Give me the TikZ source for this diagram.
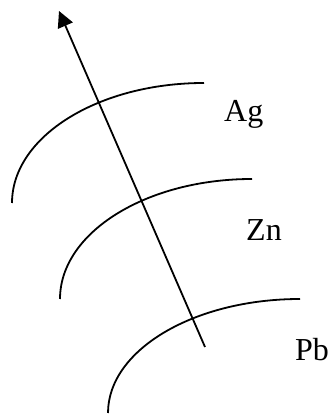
\documentclass[tikz,border=0pt]{standalone}
\usepackage{fontspec}
\setmainfont{Liberation Serif}
\usetikzlibrary{arrows.meta}

\begin{document}
\begin{tikzpicture}[
  x=1pt,y=1pt,
  shell/.style={line width=1.8pt,black},
  arr/.style={-{Triangle[length=16pt,width=16pt]},line width=1.8pt,black},
  lbl/.style={anchor=base west,inner sep=0pt,font=\fontsize{32}{38}\selectfont}
]
\useasboundingbox (0,0) rectangle (331,417);
% shells
\draw[shell] (12,214) arc[start angle=180,end angle=90,x radius=192,y radius=120];
\draw[shell] (60,118) arc[start angle=180,end angle=90,x radius=192,y radius=120];
\draw[shell] (108,4) arc[start angle=180,end angle=90,x radius=192,y radius=114];
% labels
\node[lbl] (ag) at (224,295) {Ag};
\node[lbl] (zn) at (246,176) {Zn};
\node[lbl] (pb) at (295,56) {Pb};
% direction
\coordinate (tail) at (205,70);
\coordinate (head) at (59,406);
\draw[arr] (tail) -- (head);
\end{tikzpicture}
\end{document}
